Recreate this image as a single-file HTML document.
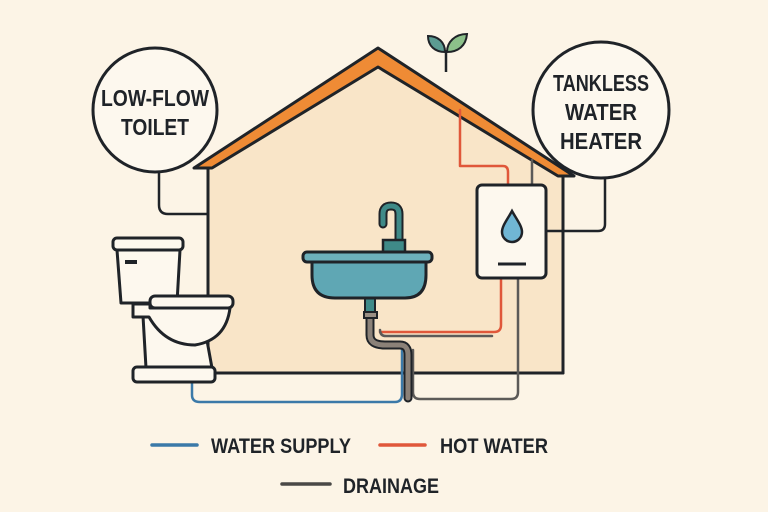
<!DOCTYPE html>
<html><head><meta charset="utf-8"><style>
html,body{margin:0;padding:0;background:#fcf4e6;}
svg{display:block}
text{font-family:"Liberation Sans",sans-serif;font-weight:bold;fill:#1f2328}
</style></head><body>
<svg width="768" height="512" viewBox="0 0 768 512" xmlns="http://www.w3.org/2000/svg">
<rect width="768" height="512" fill="#fcf4e6"/>
<!-- house body -->
<polygon points="208,168 378,66 563,175 563,373 208,373" fill="#f9e5c8"/>
<g fill="none" stroke="#1f2328" stroke-width="3" stroke-linejoin="round" stroke-linecap="round">
<line x1="208" y1="168" x2="208" y2="373"/>
<line x1="563" y1="175" x2="563" y2="373"/>
<line x1="213" y1="373" x2="563" y2="373"/>
</g>
<!-- roof -->
<polygon points="194,168 378,48 574,176 558,176 378,67 212,168" fill="#ef8b35" stroke="#1f2328" stroke-width="3" stroke-linejoin="round"/>
<!-- plant -->
<line x1="446" y1="72" x2="446" y2="50" stroke="#1f2328" stroke-width="2.5"/>
<path d="M445,52 C435,52 428,46 428,36 C438,36 445,42 445,52Z" fill="#5c9c92" stroke="#1f2328" stroke-width="2"/>
<path d="M447,52 C447,42 455,34 467,34 C466,46 458,52 447,52Z" fill="#8cc08a" stroke="#1f2328" stroke-width="2"/>
<!-- circles -->
<circle cx="155" cy="110" r="62" fill="#fdf8ee" stroke="#1f2328" stroke-width="3"/>
<text x="155" y="106" font-size="23" text-anchor="middle" textLength="108" lengthAdjust="spacingAndGlyphs">LOW-FLOW</text>
<text x="155" y="135" font-size="23" text-anchor="middle" textLength="68" lengthAdjust="spacingAndGlyphs">TOILET</text>
<circle cx="601" cy="110" r="68" fill="#fdf8ee" stroke="#1f2328" stroke-width="3"/>
<text x="601" y="91" font-size="23" text-anchor="middle" textLength="96" lengthAdjust="spacingAndGlyphs">TANKLESS</text>
<text x="601" y="120" font-size="23" text-anchor="middle" textLength="72" lengthAdjust="spacingAndGlyphs">WATER</text>
<text x="601" y="149" font-size="23" text-anchor="middle" textLength="82" lengthAdjust="spacingAndGlyphs">HEATER</text>
<!-- connectors -->
<g fill="none" stroke="#1f2328" stroke-width="2.5" stroke-linejoin="round">
<path d="M159,172 V205 Q159,214 168,214 H208"/>
<path d="M546,231 H598 Q605,231 605,224 V178"/>
</g>
<!-- pipes -->
<g fill="none" stroke-width="2.5" stroke-linejoin="round" stroke-linecap="round">
<path d="M460,110 V166 H503 Q508,166 508,172 V186" stroke="#e0573a"/>
<path d="M501,278 V325 Q501,332 494,332 H380" stroke="#e0573a"/>
<path d="M532,160 V186" stroke="#5c5a58"/>
<path d="M518,278 V392 Q518,399 511,399 H420 Q413,399 413,392 V350" stroke="#5c5a58"/>
<path d="M380,330 Q380,336 386,336 H492" stroke="#5c5a58"/>
<path d="M192,382 V395 Q192,402 200,402 H395 Q402,402 402,394 V345" stroke="#3b79a8"/>
</g>
<!-- drain trap -->
<path d="M370,318 V335 Q370,345 385,345 H400 Q408,345 408,355 V398" fill="none" stroke="#1f2328" stroke-width="9" stroke-linecap="round"/>
<path d="M370,318 V335 Q370,345 385,345 H400 Q408,345 408,355 V398" fill="none" stroke="#8b8178" stroke-width="5" stroke-linecap="round"/>
<rect x="364" y="312" width="13" height="6" fill="#9a8f84" stroke="#1f2328" stroke-width="2"/>
<rect x="365" y="298" width="10" height="14" fill="#3f8a88" stroke="#1f2328" stroke-width="2"/>
<!-- heater -->
<rect x="477" y="185" width="69" height="93" rx="5" fill="#fdf8ee" stroke="#1f2328" stroke-width="3"/>
<path d="M512,211 C507,220 502,226 502,232 A10,10 0 0 0 522,232 C522,226 517,220 512,211Z" fill="#70b6d4" stroke="#1f2328" stroke-width="2.5"/>
<line x1="498" y1="264" x2="526" y2="264" stroke="#1f2328" stroke-width="3"/>
<!-- sink -->
<path d="M383,224 V214 Q383,206 391,206 Q399,206 399,214 V242" fill="none" stroke="#1f2328" stroke-width="9" stroke-linecap="round"/>
<path d="M383,224 V214 Q383,206 391,206 Q399,206 399,214 V242" fill="none" stroke="#3f8a88" stroke-width="5" stroke-linecap="round"/>
<rect x="383" y="240" width="22" height="12" fill="#3f8a88" stroke="#1f2328" stroke-width="2.5"/>
<path d="M312,262 V275 Q312,298 335,298 H405 Q426,298 426,275 V262Z" fill="#5fa7b4" stroke="#1f2328" stroke-width="3" stroke-linejoin="round"/>
<rect x="303" y="252" width="129" height="10" rx="4" fill="#6db0bb" stroke="#1f2328" stroke-width="3"/>
<!-- toilet -->
<g fill="#fdf8ee" stroke="#1f2328" stroke-width="3" stroke-linejoin="round">
<path d="M117,250 H180 L177,303 H121Z"/>
<rect x="113" y="238" width="70" height="12" rx="4"/>
<path d="M143,316 L146,368 H212 L206,335 H170 L168,316Z"/>
<rect x="133" y="367" width="82" height="15" rx="4"/>
<path d="M133,304 V317 H149 Q165,345 195,345 Q226,340 230,308 H150 V304Z"/>
<rect x="150" y="296" width="83" height="12" rx="5"/>
</g>
<rect x="125" y="260" width="12" height="4" fill="#1f2328"/>
<!-- legend -->
<g stroke-width="3.5" stroke-linecap="round">
<line x1="152" y1="445" x2="197" y2="445" stroke="#3b79a8"/>
<line x1="380" y1="445" x2="425" y2="445" stroke="#e0573a"/>
<line x1="282" y1="484" x2="330" y2="484" stroke="#4a4846"/>
</g>
<text x="211" y="453" font-size="21" textLength="140" lengthAdjust="spacingAndGlyphs">WATER SUPPLY</text>
<text x="440" y="453" font-size="21" textLength="108" lengthAdjust="spacingAndGlyphs">HOT WATER</text>
<text x="343" y="493" font-size="21" textLength="96" lengthAdjust="spacingAndGlyphs">DRAINAGE</text>
</svg>
</body></html>
